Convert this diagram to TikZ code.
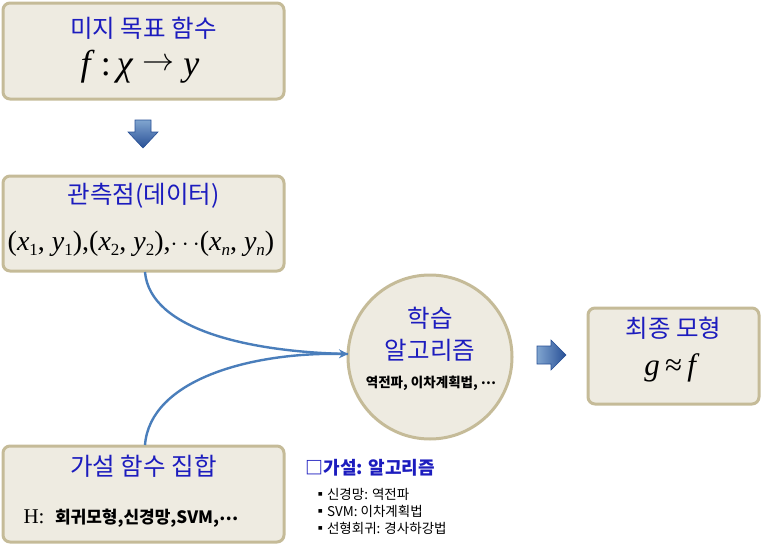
\documentclass[tikz,border=0pt]{standalone}
\usepackage{fontspec}
\usepackage{graphicx}
\setmainfont{Liberation Serif}
\newfontfamily\kr{Noto Sans CJK KR}
\usetikzlibrary{arrows.meta,shadows}
\definecolor{boxfill}{RGB}{238,235,225}
\definecolor{boxline}{RGB}{197,187,152}
\definecolor{ttl}{RGB}{28,28,190}
\definecolor{arr}{RGB}{74,126,187}
\definecolor{arrdark}{RGB}{40,80,150}
\newcommand{\subi}[1]{\raisebox{-0.35ex}{\fontsize{17}{17}\selectfont #1}}
\newcommand{\mydots}{\raisebox{0.35ex}{…}}
\tikzset{
  panel/.style={draw=boxline, fill=boxfill, line width=3pt, rounded corners=7pt},
  ttltext/.style={text=ttl, font=\kr\fontsize{24.5}{28}\selectfont},
  fat/.style={draw=arrdark, line width=0.6pt, top color=arr!70!white, bottom color=arrdark, shading angle=0},
  link/.style={draw=arr, line width=2.4pt},
}
\begin{document}
\begin{tikzpicture}[x=1pt,y=-1pt]
\useasboundingbox (0,0) rectangle (763,546);
% boxes
\draw[panel] (3,3) rectangle (284,99);
\node (t1) [ttltext] at (143.5,28) {미지 목표 함수};
\node (m1) at (140,67) {\fontsize{36}{40}\selectfont\textit{f}\,:\,\textit{χ}\ \raisebox{0.32ex}{\resizebox{32pt}{!}{$\rightarrow$}}\ \textit{y}};

\draw[panel] (3,176) rectangle (284,271);
\node (t2) [ttltext] at (143.5,196) {관측점(데이터)};
\node (m2) at (141,244) {\fontsize{28}{32}\selectfont(\textit{x}\subi{1}, \textit{y}\subi{1}),(\textit{x}\subi{2}, \textit{y}\subi{2}),$\cdots$(\textit{x}\subi{\textit{n}}, \textit{y}\subi{\textit{n}})};
\coordinate (b2s) at (145,272);

\draw[panel] (3,446) rectangle (284,542);
\node (t4) [ttltext] at (143.5,466) {가설 함수 집합};
\node (h4) [anchor=west] at (20,518) {\fontsize{21}{24}\selectfont H:\ \ \kr\bfseries\fontsize{17}{20}\selectfont 회귀모형,신경망,SVM,\mydots};
\coordinate (b4n) at (145,445);

\draw[panel] (588,308) rectangle (759,404);
\node (t3) [ttltext] at (673.5,328) {최종 모형};
\node (m3) at (672,368) {\fontsize{31}{34}\selectfont\textit{g}\,≈\,\textit{f}};

% circle
\node (c) [circle, draw=boxline, fill=boxfill, line width=3pt, minimum size=164pt, inner sep=0pt] at (430,357) {};
\node (c1) [ttltext] at (430,318) {학습};
\node (c2) [ttltext] at (430,350) {알고리즘};
\node (c3) at (431,383) {\kr\bfseries\fontsize{13.5}{16}\selectfont 역전파, 이차계획법, \mydots};

% curves
\coordinate (tip) at (348,354);
\draw[link] (b2s) .. controls (150,330) and (250,352) .. (tip);
\draw[link,-{Stealth[length=9pt,width=9pt]}] (b4n) .. controls (150,380) and (250,352) .. (tip);

% fat arrows
\draw[fat] (135,120) -- (151,120) -- (151,132) -- (158,132) -- (143,148) -- (128,132) -- (135,132) -- cycle;
\node (da) at (143,134) {};
\draw[fat, shading angle=90] (537,346) -- (551,346) -- (551,340) -- (566,355) -- (551,370) -- (551,364) -- (537,364) -- cycle;
\node (ra) at (551,355) {};

% legend
\node (lg) [anchor=west, text=ttl] at (302,468) {\kr\bfseries\fontsize{18}{21}\selectfont □가설: 알고리즘};
\node (l1) [anchor=west] at (310,494) {\kr\fontsize{13.5}{16}\selectfont ▪신경망: 역전파};
\node (l2) [anchor=west] at (310,511) {\kr\fontsize{13.5}{16}\selectfont ▪SVM: 이차계획법};
\node (l3) [anchor=west] at (310,528) {\kr\fontsize{13.5}{16}\selectfont ▪선형회귀: 경사하강법};
\end{tikzpicture}
\end{document}
